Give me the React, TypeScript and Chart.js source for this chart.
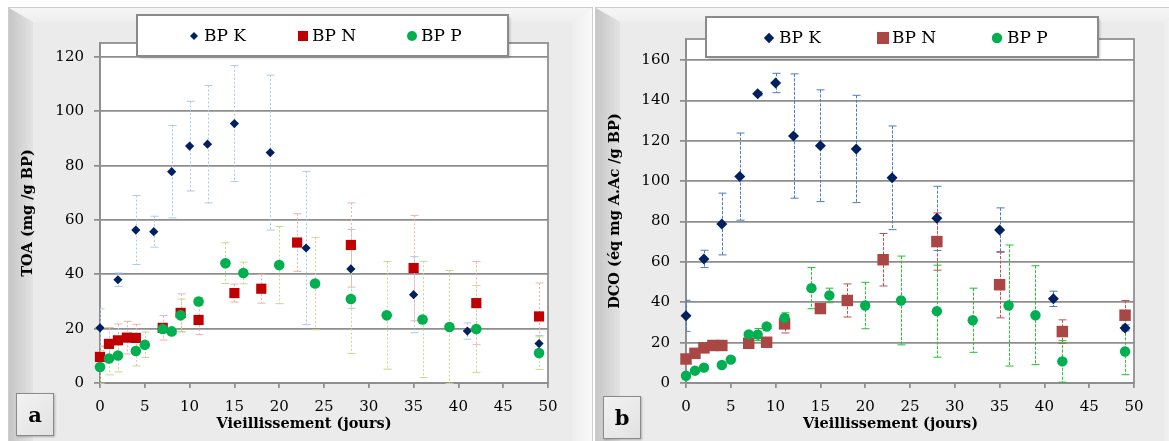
import React, { useEffect, useRef } from "react";
import { Chart, registerables } from "chart.js";

Chart.register(...registerables);

const FONT = "'DejaVu Serif', 'Liberation Serif', serif";
Chart.defaults.font.family = FONT;
Chart.defaults.color = "#000";

// ---------- shared axis ----------
const X_TITLE = "Vieillissement (jours)";
const X_MIN = 0;
const X_MAX = 50;
const X_STEP = 5;
const Y_STEP = 20;

// ---------- Panel a : TOA ----------
const TOA_TITLE = "TOA (mg /g BP)";
const toaKDays = [0, 2, 4, 6, 8, 10, 12, 15, 19, 23, 28, 35, 41, 49];
const toaK = [20.3, 38, 56.3, 55.7, 77.8, 87.2, 87.9, 95.5, 84.8, 49.7, 42, 32.5, 19.1, 14.5];
const toaKErr = [7, 2.5, 12.7, 5.7, 17, 16.5, 21.6, 21.3, 28.5, 28.2, 14.5, 14, 3, 3];

const toaNDays = [0, 1, 2, 3, 4, 7, 9, 11, 15, 18, 22, 28, 35, 42, 49];
const toaN = [9.6, 14.4, 15.7, 16.7, 16.6, 20.3, 25.8, 23.2, 33.1, 34.7, 51.7, 50.8, 42.3, 29.4, 24.5];
const toaNErr = [4, 6, 6, 6, 5, 4.5, 7, 5.4, 3.3, 5.3, 10.6, 15.5, 19.4, 15.3, 12.3];

const toaPDays = [0, 1, 2, 4, 5, 7, 8, 9, 11, 14, 16, 20, 24, 28, 32, 36, 39, 42, 49];
const toaP = [5.9, 9, 10.1, 11.8, 14.1, 19.9, 19, 24.9, 30, 44.1, 40.5, 43.4, 36.6, 30.9, 24.9, 23.4, 20.6, 19.9, 11];
const toaPErr = [6, 6, 6, 5.5, 4.7, 1.5, 1, 6, 1.5, 7.5, 4, 14.2, 17, 20, 19.8, 21.4, 20.8, 16, 6];

// ---------- Panel b : DCO ----------
const DCO_TITLE = "DCO (éq mg A.Ac /g BP)";
const dcoKDays = [0, 2, 4, 6, 8, 10, 12, 15, 19, 23, 28, 35, 41, 49];
const dcoK = [33.3, 61.5, 78.8, 102.3, 143.4, 148.7, 122.4, 117.6, 116, 101.7, 81.6, 75.8, 41.7, 27.3];
const dcoKErr = [7.7, 4.3, 15.3, 21.6, 1, 4.8, 30.8, 27.7, 26.6, 25.7, 15.9, 11, 3.8, 1.5];

const dcoNDays = [0, 1, 2, 3, 4, 7, 9, 11, 15, 18, 22, 28, 35, 42, 49];
const dcoN = [11.9, 14.7, 17.4, 18.6, 18.6, 19.7, 20.2, 29.3, 36.9, 40.9, 61.1, 70.1, 48.7, 25.5, 33.6];
const dcoNErr = [1, 1, 1, 1, 1, 1, 1, 4.5, 1.5, 8.2, 13, 14.2, 16.4, 5.8, 7.3];

const dcoPDays = [0, 1, 2, 4, 5, 7, 8, 9, 11, 14, 16, 20, 24, 28, 32, 36, 39, 42, 49];
const dcoP = [3.6, 6.1, 7.6, 8.9, 11.6, 24.1, 24, 28, 32.3, 47, 43.4, 38.4, 40.9, 35.6, 31.1, 38.4, 33.6, 10.7, 15.6];
const dcoPErr = [1, 1, 1, 1, 1, 1, 3, 1, 2.5, 10.2, 3.6, 11.5, 22, 22.8, 15.9, 30, 24.5, 10.3, 11.5];

const SERIES_LABELS = ["BP K", "BP N", "BP P"];

// ---------- styling ----------
const GRID = "#8E8E8E";
const K_COLOR = "#002060";
const N_COLOR_A = "#C00000";
const N_COLOR_B = "#AA4643";
const P_COLOR = "#00B050";

type Series = {
  label: string;
  days: number[];
  values: number[];
  errors: number[];
  color: string;
  errColor: string;
  pointStyle: string;
  radius: number;
  legendSize: number;
  order: number;
};

type PanelCfg = {
  yTitle: string;
  yMax: number;
  series: Series[];
  left: number;
  top: number;
  w: number;
  h: number;
  yAxisW: number;
  xAxisH: number;
  padTop: number;
  padRight: number;
  yTitlePad: number;
  xTitleX: number;
  dash: number[];
  legendBox: [number, number, number, number];
  legendMarkers: number[];
  legendTexts: number[];
  legendY: number;
};

const panelA: PanelCfg = {
  yTitle: TOA_TITLE,
  yMax: 125.15,
  series: [
    { label: SERIES_LABELS[0], days: toaKDays, values: toaK, errors: toaKErr, color: K_COLOR, errColor: "#AFC8EA", pointStyle: "rectRot", radius: 4.6, legendSize: 4, order: 3 },
    { label: SERIES_LABELS[1], days: toaNDays, values: toaN, errors: toaNErr, color: N_COLOR_A, errColor: "#F1B0B0", pointStyle: "rect", radius: 7.2, legendSize: 5, order: 2 },
    { label: SERIES_LABELS[2], days: toaPDays, values: toaP, errors: toaPErr, color: P_COLOR, errColor: "#C6D98E", pointStyle: "circle", radius: 5.3, legendSize: 5, order: 1 },
  ],
  left: 8, top: 8, w: 574, h: 433,
  yAxisW: 92, xAxisH: 58, padTop: 35, padRight: 34,
  yTitlePad: 12,
  xTitleX: 296,
  dash: [2, 2],
  legendBox: [129, 7, 371, 41],
  legendMarkers: [186, 295, 404],
  legendTexts: [196, 304, 413],
  legendY: 28,
};

const panelB: PanelCfg = {
  yTitle: DCO_TITLE,
  yMax: 170.5,
  series: [
    { label: SERIES_LABELS[0], days: dcoKDays, values: dcoK, errors: dcoKErr, color: K_COLOR, errColor: "#4A7EBB", pointStyle: "rectRot", radius: 5.5, legendSize: 5.2, order: 3 },
    { label: SERIES_LABELS[1], days: dcoNDays, values: dcoN, errors: dcoNErr, color: N_COLOR_B, errColor: "#C0504D", pointStyle: "rect", radius: 8.1, legendSize: 6, order: 2 },
    { label: SERIES_LABELS[2], days: dcoPDays, values: dcoP, errors: dcoPErr, color: P_COLOR, errColor: "#22C42A", pointStyle: "circle", radius: 5.2, legendSize: 5.2, order: 1 },
  ],
  left: 596, top: 8, w: 566, h: 433,
  yAxisW: 90, xAxisH: 58, padTop: 31, padRight: 28,
  yTitlePad: 11,
  xTitleX: 294.5,
  dash: [3, 1.5],
  legendBox: [110, 9, 392, 40],
  legendMarkers: [173, 287, 401],
  legendTexts: [183, 296, 411],
  legendY: 30,
};

function drawMarker(ctx: CanvasRenderingContext2D, style: string, cx: number, cy: number, s: number, color: string) {
  ctx.fillStyle = color;
  ctx.beginPath();
  if (style === "rectRot") {
    ctx.moveTo(cx - s, cy);
    ctx.lineTo(cx, cy - s);
    ctx.lineTo(cx + s, cy);
    ctx.lineTo(cx, cy + s);
    ctx.closePath();
  } else if (style === "rect") {
    ctx.rect(cx - s, cy - s, 2 * s, 2 * s);
  } else {
    ctx.arc(cx, cy, s, 0, Math.PI * 2);
  }
  ctx.fill();
}

function makeConfig(cfg: PanelCfg): any {
  const plotPlugin = {
    id: "plotDecor",
    beforeDraw(chart: any) {
      const { ctx, chartArea: a } = chart;
      ctx.save();
      ctx.fillStyle = "#FFFFFF";
      ctx.fillRect(a.left, a.top, a.right - a.left, a.bottom - a.top);
      ctx.restore();
    },
    beforeDatasetsDraw(chart: any) {
      const { ctx, chartArea: a } = chart;
      const xs = chart.scales.x;
      const ys = chart.scales.y;
      ctx.save();
      ctx.strokeStyle = GRID;
      ctx.lineWidth = 1.75;
      ctx.strokeRect(a.left, a.top, a.right - a.left, a.bottom - a.top);
      ctx.beginPath();
      ctx.rect(a.left, a.top, a.right - a.left, a.bottom - a.top + 1);
      ctx.clip();
      chart.data.datasets.forEach((ds: any) => {
        ctx.strokeStyle = ds.errColor;
        ctx.lineWidth = 1;
        ds.data.forEach((p: any, i: number) => {
          const e = ds.errors[i];
          const x = Math.round(xs.getPixelForValue(p.x)) + 0.5;
          const yTop = ys.getPixelForValue(p.y + e);
          const yBot = ys.getPixelForValue(p.y - e);
          ctx.setLineDash(cfg.dash);
          ctx.beginPath();
          ctx.moveTo(x, yTop);
          ctx.lineTo(x, yBot);
          ctx.stroke();
          ctx.setLineDash([]);
          ctx.beginPath();
          ctx.moveTo(x - 4, yTop);
          ctx.lineTo(x + 4, yTop);
          ctx.moveTo(x - 4, yBot);
          ctx.lineTo(x + 4, yBot);
          ctx.stroke();
        });
      });
      ctx.restore();
    },
    afterDraw(chart: any) {
      const { ctx, chartArea: a } = chart;
      ctx.save();
      // x-axis title
      ctx.font = `bold 14.5px ${FONT}`;
      ctx.fillStyle = "#000";
      ctx.textAlign = "center";
      ctx.textBaseline = "middle";
      ctx.fillText(X_TITLE, cfg.xTitleX, cfg.h - 17);
      // legend
      const [lx, ly, lw, lh] = cfg.legendBox;
      ctx.shadowColor = "rgba(0,0,0,0.3)";
      ctx.shadowBlur = 3;
      ctx.shadowOffsetX = 1.5;
      ctx.shadowOffsetY = 1.5;
      ctx.fillStyle = "#FFFFFF";
      ctx.fillRect(lx, ly, lw, lh);
      ctx.shadowColor = "transparent";
      ctx.strokeStyle = "#8A8A8A";
      ctx.lineWidth = 2;
      ctx.strokeRect(lx, ly, lw, lh);
      ctx.font = `17px ${FONT}`;
      ctx.textAlign = "left";
      ctx.textBaseline = "middle";
      cfg.series.forEach((s, i) => {
        drawMarker(ctx, s.pointStyle, cfg.legendMarkers[i], cfg.legendY, s.legendSize, s.color);
        ctx.fillStyle = "#000";
        ctx.fillText(s.label, cfg.legendTexts[i], cfg.legendY + 1);
      });
      ctx.restore();
    },
  };

  return {
    type: "scatter",
    data: {
      datasets: cfg.series.map((s) => ({
        label: s.label,
        data: s.days.map((d, i) => ({ x: d, y: s.values[i] })),
        errors: s.errors,
        errColor: s.errColor,
        backgroundColor: s.color,
        borderColor: s.color,
        borderWidth: 0,
        pointStyle: s.pointStyle,
        pointRadius: s.radius,
        pointHoverRadius: s.radius,
        order: s.order,
        clip: false,
        showLine: false,
      })),
    },
    options: {
      responsive: false,
      animation: false,
      events: [],
      layout: { padding: { left: 0, top: cfg.padTop, right: cfg.padRight, bottom: 0 } },
      plugins: { legend: { display: false }, tooltip: { enabled: false } },
      scales: {
        x: {
          type: "linear",
          min: X_MIN,
          max: X_MAX,
          ticks: { stepSize: X_STEP, color: "#000", font: { size: 15, family: FONT }, padding: 10, maxRotation: 0, autoSkip: false },
          grid: { drawOnChartArea: false, drawTicks: true, tickLength: 5, color: GRID, lineWidth: 1.75 },
          border: { display: true, color: GRID, width: 1.75 },
          afterFit: (s: any) => {
            s.height = cfg.xAxisH;
          },
        },
        y: {
          type: "linear",
          min: 0,
          max: cfg.yMax,
          ticks: { stepSize: Y_STEP, includeBounds: false, color: "#000", font: { size: 15, family: FONT }, padding: 10 },
          grid: { color: GRID, lineWidth: 1.75, tickLength: 6, drawTicks: true },
          border: { display: true, color: GRID, width: 1.75 },
          title: {
            display: true,
            text: cfg.yTitle,
            color: "#000",
            font: { size: 14.5, weight: "bold", family: FONT },
            padding: { top: cfg.yTitlePad, bottom: 0 },
          },
          afterFit: (s: any) => {
            s.width = cfg.yAxisW;
          },
        },
      },
    },
    plugins: [plotPlugin],
  };
}

function ChartCanvas({ cfg }: { cfg: PanelCfg }) {
  const ref = useRef<HTMLCanvasElement>(null);
  useEffect(() => {
    const chart = new Chart(ref.current as HTMLCanvasElement, makeConfig(cfg));
    return () => chart.destroy();
  }, [cfg]);
  return (
    <canvas
      ref={ref}
      width={cfg.w}
      height={cfg.h}
      style={{ position: "absolute", left: cfg.left, top: cfg.top, width: cfg.w, height: cfg.h }}
    />
  );
}

function Frame({ left, width }: { left: number; width: number }) {
  const H = 450;
  return (
    <div
      style={{
        position: "absolute",
        left,
        top: 7,
        width,
        height: H,
        background: "#EBEBEB",
        border: "1px solid #CDCDCD",
        boxSizing: "border-box",
        overflow: "hidden",
      }}
    >
      <div
        style={{
          position: "absolute", left: 0, top: 0, width: "100%", height: 14,
          background: "linear-gradient(to bottom, #F6F6F6, #EEEEEE)",
          clipPath: `polygon(0 0, 100% 0, calc(100% - 20px) 14px, 24px 14px)`,
        }}
      />
      <div
        style={{
          position: "absolute", left: 0, top: 0, width: 24, height: H,
          background: "linear-gradient(to right, #C6C6C6, #E3E3E3)",
          clipPath: `polygon(0 0, 24px 14px, 24px 100%, 0 100%)`,
        }}
      />
      <div
        style={{
          position: "absolute", right: 0, top: 0, width: 20, height: H,
          background: "linear-gradient(to left, #F9F9F9, #EEEEEE)",
          clipPath: `polygon(100% 0, 100% 100%, 0 100%, 0 14px)`,
        }}
      />
    </div>
  );
}

function LabelBox({ left, top, text }: { left: number; top: number; text: string }) {
  return (
    <div
      style={{
        position: "absolute",
        left,
        top,
        width: 38,
        height: 43,
        boxSizing: "border-box",
        border: "1.5px solid #8A8A8A",
        background: "linear-gradient(135deg, #F2F2F2, #E2E2E2)",
        boxShadow: "1px 1px 2px rgba(0,0,0,0.25)",
        fontFamily: FONT,
        fontWeight: "bold",
        fontSize: 21,
        display: "flex",
        alignItems: "center",
        justifyContent: "center",
        color: "#000",
      }}
    >
      {text}
    </div>
  );
}

export default function App() {
  return (
    <div
      style={{
        position: "fixed",
        left: 0,
        top: 0,
        width: 1169,
        height: 441,
        background: "#FFFFFF",
        overflow: "hidden",
      }}
    >
      <Frame left={8} width={585} />
      <Frame left={595} width={590} />
      <ChartCanvas cfg={panelA} />
      <ChartCanvas cfg={panelB} />
      <LabelBox left={16} top={393} text="a" />
      <LabelBox left={603} top={396} text="b" />
    </div>
  );
}
